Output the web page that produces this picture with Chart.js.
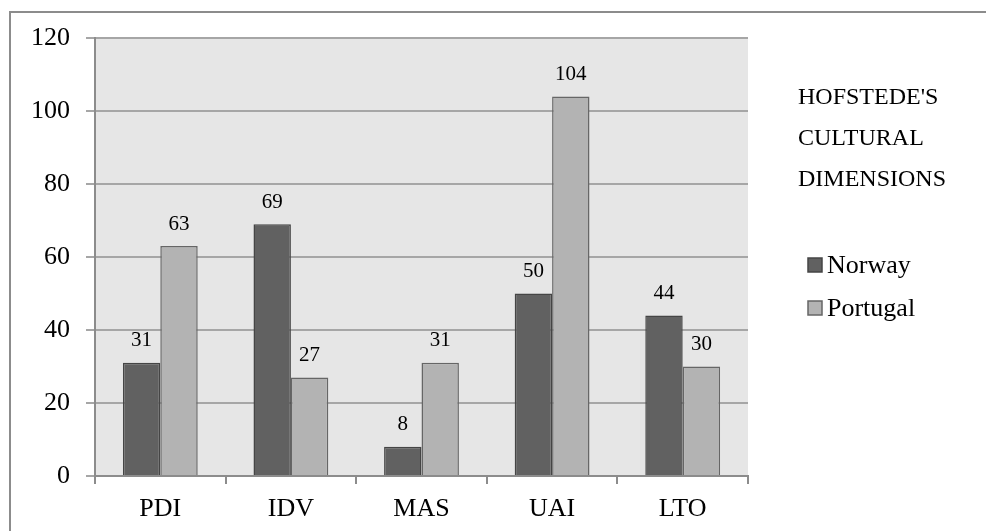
<!DOCTYPE html>
<html>
<head>
<meta charset="utf-8">
<script src="https://cdn.jsdelivr.net/npm/chart.js@4/dist/chart.umd.min.js"></script>
<style>
  html, body { margin: 0; padding: 0; background: #ffffff; }
  #wrap { position: relative; width: 986px; height: 531px; }
</style>
</head>
<body>
<div id="wrap"><canvas id="c" width="986" height="531"></canvas></div>
<script>
const categories = ['PDI', 'IDV', 'MAS', 'UAI', 'LTO'];
const norwayValues = [31, 69, 8, 50, 44];
const portugalValues = [63, 27, 31, 104, 30];
const seriesNames = ['Norway', 'Portugal'];
const legendTitleLines = ["HOFSTEDE'S", 'CULTURAL', 'DIMENSIONS'];
const yMin = 0, yMax = 120, yStep = 20;

const SERIF = '"Liberation Serif", "Times New Roman", serif';

const plotBg = {
  id: 'plotBg',
  beforeDraw(chart) {
    const { ctx, chartArea: a } = chart;
    ctx.save();
    ctx.fillStyle = '#e6e6e6';
    ctx.fillRect(a.left, a.top, a.right - a.left, a.bottom - a.top);
    ctx.restore();
  },
  afterDraw(chart) {
    const { ctx } = chart;
    ctx.save();
    ctx.strokeStyle = '#8c8c8c';
    ctx.lineWidth = 2;
    ctx.beginPath();
    ctx.moveTo(10, 540);
    ctx.lineTo(10, 12);
    ctx.lineTo(1000, 12);
    ctx.stroke();
    ctx.restore();
  }
};

const valueLabels = {
  id: 'valueLabels',
  afterDatasetsDraw(chart) {
    const { ctx } = chart;
    ctx.save();
    ctx.font = '21px ' + SERIF;
    ctx.fillStyle = '#000';
    ctx.textAlign = 'center';
    ctx.textBaseline = 'middle';
    chart.data.datasets.forEach((ds, i) => {
      const meta = chart.getDatasetMeta(i);
      meta.data.forEach((bar, j) => {
        ctx.fillText(String(ds.data[j]), bar.x, bar.y - 22);
      });
    });
    ctx.restore();
  }
};

const sideLegend = {
  id: 'sideLegend',
  afterDraw(chart) {
    const { ctx, chartArea: a } = chart;
    const x0 = a.right + 50;
    ctx.save();
    ctx.fillStyle = '#000';
    ctx.textAlign = 'left';
    ctx.textBaseline = 'middle';
    ctx.font = '24px ' + SERIF;
    legendTitleLines.forEach((t, i) => {
      ctx.fillText(t, x0, a.top + 60 + i * 41);
    });
    ctx.font = '26px ' + SERIF;
    chart.data.datasets.forEach((ds, i) => {
      const cy = a.top + 227 + i * 43;
      ctx.fillStyle = ds.backgroundColor;
      ctx.fillRect(x0 + 10, cy - 7, 14, 14);
      ctx.strokeStyle = ds.borderColor;
      ctx.lineWidth = 1.5;
      ctx.strokeRect(x0 + 10, cy - 7, 14, 14);
      ctx.fillStyle = '#000';
      ctx.fillText(ds.label, x0 + 29, cy + 1);
    });
    ctx.restore();
  }
};

new Chart(document.getElementById('c'), {
  type: 'bar',
  data: {
    labels: categories,
    datasets: [
      {
        label: seriesNames[0],
        data: norwayValues,
        backgroundColor: '#616161',
        borderColor: '#454545',
        borderWidth: 1.5,
        categoryPercentage: 0.573,
        barPercentage: 1.0
      },
      {
        label: seriesNames[1],
        data: portugalValues,
        backgroundColor: '#b3b3b3',
        borderColor: '#666666',
        borderWidth: 1.5,
        categoryPercentage: 0.573,
        barPercentage: 1.0
      }
    ]
  },
  options: {
    responsive: false,
    animation: false,
    devicePixelRatio: 1,
    layout: { padding: { top: 38, right: 238, left: 0, bottom: 0 } },
    plugins: {
      legend: { display: false },
      tooltip: { enabled: false },
      title: { display: false }
    },
    scales: {
      x: {
        offset: true,
        grid: {
          offset: true,
          drawOnChartArea: false,
          drawTicks: true,
          tickLength: 8,
          color: '#8c8c8c',
          lineWidth: 2
        },
        border: { display: true, color: '#8c8c8c', width: 2 },
        ticks: {
          color: '#000',
          font: { family: SERIF, size: 26 },
          padding: 10,
          maxRotation: 0
        },
        afterFit(scale) { scale.height = 55; }
      },
      y: {
        min: yMin,
        max: yMax,
        grid: {
          color: '#a6a6a6',
          lineWidth: 2,
          drawTicks: true,
          tickLength: 9
        },
        border: { display: true, color: '#8c8c8c', width: 2 },
        ticks: {
          stepSize: yStep,
          color: '#000',
          font: { family: SERIF, size: 26 },
          padding: 16
        },
        afterFit(scale) { scale.width = 95; }
      }
    }
  },
  plugins: [plotBg, valueLabels, sideLegend]
});
</script>
</body>
</html>
